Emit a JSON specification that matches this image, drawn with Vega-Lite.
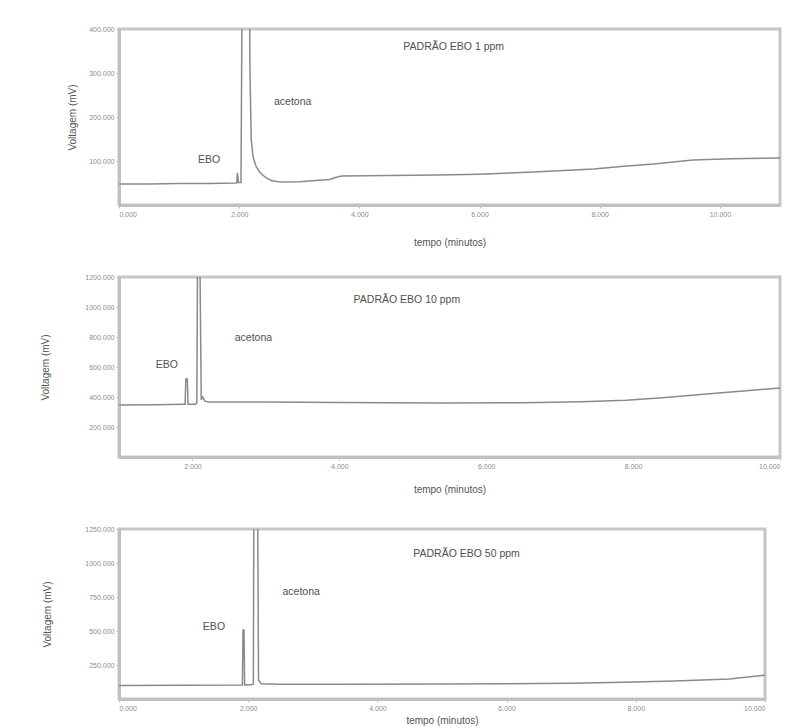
{
  "$schema": "https://vega.github.io/schema/vega-lite/v6.json",
  "background": "white",
  "padding": {"left": 38, "top": 23, "right": 10, "bottom": 4},
  "bounds": "flush",
  "spacing": 72,
  "config": {
    "font": "Liberation Sans",
    "view": {"stroke": "#c6c6c6", "strokeWidth": 3},
    "axis": {
      "grid": false,
      "domainColor": "#c0c0c0",
      "domainWidth": 3,
      "tickColor": "#bdbdbd",
      "tickSize": 3,
      "labelFontSize": 7,
      "labelColor": "#8c8c8c",
      "labelPadding": 2,
      "labelOverlap": false,
      "titleFontSize": 10,
      "titleFontWeight": "normal",
      "titleColor": "#555555"
    },
    "line": {"color": "#8a8a8a", "strokeWidth": 1.5, "clip": true},
    "text": {"fontSize": 10.5, "color": "#505050"}
  },
  "datasets": {
    "ebo1": [
      {"t": 0, "v": 48}, {"t": 0.5, "v": 48}, {"t": 1.0, "v": 49}, {"t": 1.5, "v": 49},
      {"t": 1.95, "v": 50}, {"t": 1.96, "v": 50}, {"t": 1.97, "v": 73}, {"t": 1.99, "v": 51},
      {"t": 2.03, "v": 51}, {"t": 2.05, "v": 520}, {"t": 2.07, "v": 700}, {"t": 2.16, "v": 700},
      {"t": 2.18, "v": 300}, {"t": 2.2, "v": 150}, {"t": 2.23, "v": 110}, {"t": 2.28, "v": 88},
      {"t": 2.34, "v": 75}, {"t": 2.4, "v": 67}, {"t": 2.47, "v": 60}, {"t": 2.55, "v": 55},
      {"t": 2.7, "v": 52}, {"t": 3.0, "v": 53}, {"t": 3.5, "v": 58}, {"t": 3.62, "v": 63},
      {"t": 3.7, "v": 66}, {"t": 4.5, "v": 67}, {"t": 5.3, "v": 68}, {"t": 6.0, "v": 70},
      {"t": 6.9, "v": 75}, {"t": 7.9, "v": 82}, {"t": 8.4, "v": 88}, {"t": 8.9, "v": 93},
      {"t": 9.55, "v": 102}, {"t": 10.2, "v": 105}, {"t": 11.0, "v": 107}
    ],
    "ebo1_labels": [
      {"t": 5.57, "v": 359, "label": "PADRÃO EBO 1 ppm"},
      {"t": 2.89, "v": 234, "label": "acetona"},
      {"t": 1.5, "v": 102, "label": "EBO"}
    ],
    "ebo10": [
      {"t": 1.0, "v": 347}, {"t": 1.5, "v": 349}, {"t": 1.88, "v": 352}, {"t": 1.9, "v": 352},
      {"t": 1.91, "v": 520}, {"t": 1.93, "v": 520}, {"t": 1.94, "v": 352}, {"t": 2.04, "v": 352},
      {"t": 2.06, "v": 360}, {"t": 2.07, "v": 1400}, {"t": 2.1, "v": 1400}, {"t": 2.12, "v": 380},
      {"t": 2.14, "v": 400}, {"t": 2.17, "v": 372}, {"t": 2.22, "v": 367}, {"t": 3.0, "v": 366},
      {"t": 4.0, "v": 363}, {"t": 5.4, "v": 360}, {"t": 6.5, "v": 362}, {"t": 7.3, "v": 368},
      {"t": 7.9, "v": 378}, {"t": 8.4, "v": 395}, {"t": 9.0, "v": 420}, {"t": 9.5, "v": 440},
      {"t": 10.0, "v": 460}
    ],
    "ebo10_labels": [
      {"t": 4.92, "v": 1047, "label": "PADRÃO EBO 10 ppm"},
      {"t": 2.83, "v": 793, "label": "acetona"},
      {"t": 1.65, "v": 613, "label": "EBO"}
    ],
    "ebo50": [
      {"t": 0, "v": 100}, {"t": 1.0, "v": 101}, {"t": 1.9, "v": 103}, {"t": 1.91, "v": 103},
      {"t": 1.92, "v": 507}, {"t": 1.935, "v": 507}, {"t": 1.945, "v": 103}, {"t": 2.05, "v": 104},
      {"t": 2.08, "v": 110}, {"t": 2.09, "v": 2000}, {"t": 2.14, "v": 2000}, {"t": 2.16, "v": 140},
      {"t": 2.2, "v": 112}, {"t": 2.5, "v": 108}, {"t": 3.5, "v": 108}, {"t": 5.0, "v": 110},
      {"t": 6.0, "v": 112}, {"t": 7.0, "v": 116}, {"t": 7.8, "v": 123}, {"t": 8.6, "v": 132},
      {"t": 9.45, "v": 147}, {"t": 10.0, "v": 176}
    ],
    "ebo50_labels": [
      {"t": 5.38, "v": 1066, "label": "PADRÃO EBO 50 ppm"},
      {"t": 2.82, "v": 787, "label": "acetona"},
      {"t": 1.47, "v": 529, "label": "EBO"}
    ]
  },
  "vconcat": [
    {
      "width": 661,
      "height": 176,
      "encoding": {
        "x": {"field": "t", "type": "quantitative",
          "scale": {"domain": [0, 11], "nice": false, "zero": false},
          "axis": {"title": "tempo (minutos)", "values": [0, 2, 4, 6, 8, 10], "format": ".3f",
            "labelOverlap": false, "minExtent": 12, "maxExtent": 12, "titlePadding": 20}},
        "y": {"field": "v", "type": "quantitative",
          "scale": {"domain": [0, 400], "nice": false},
          "axis": {"title": "Voltagem (mV)", "values": [100, 200, 300, 400], "format": ".3f",
            "labelOverlap": false, "minExtent": 30, "maxExtent": 30, "titlePadding": 12}}
      },
      "layer": [
        {"data": {"name": "ebo1"}, "mark": {"type": "line", "clip": true}},
        {"data": {"name": "ebo1_labels"}, "mark": {"type": "text"}, "encoding": {"text": {"field": "label"}}}
      ]
    },
    {
      "width": 661,
      "height": 180,
      "encoding": {
        "x": {"field": "t", "type": "quantitative",
          "scale": {"domain": [1, 10], "nice": false, "zero": false},
          "axis": {"title": "tempo (minutos)", "values": [2, 4, 6, 8, 10], "format": ".3f",
            "labelOverlap": false, "minExtent": 12, "maxExtent": 12, "titlePadding": 15}},
        "y": {"field": "v", "type": "quantitative",
          "scale": {"domain": [0, 1200], "nice": false},
          "axis": {"title": "Voltagem (mV)", "values": [200, 400, 600, 800, 1000, 1200], "format": ".3f",
            "labelOverlap": false, "minExtent": 30, "maxExtent": 30, "titlePadding": 39}}
      },
      "layer": [
        {"data": {"name": "ebo10"}, "mark": {"type": "line", "clip": true}},
        {"data": {"name": "ebo10_labels"}, "mark": {"type": "text"}, "encoding": {"text": {"field": "label"}}}
      ]
    },
    {
      "width": 646,
      "height": 170,
      "encoding": {
        "x": {"field": "t", "type": "quantitative",
          "scale": {"domain": [0, 10], "nice": false, "zero": false},
          "axis": {"title": "tempo (minutos)", "values": [0, 2, 4, 6, 8, 10], "format": ".3f",
            "labelOverlap": false, "minExtent": 12, "maxExtent": 12, "titlePadding": 4}},
        "y": {"field": "v", "type": "quantitative",
          "scale": {"domain": [0, 1250], "nice": false},
          "axis": {"title": "Voltagem (mV)", "values": [250, 500, 750, 1000, 1250], "format": ".3f",
            "labelOverlap": false, "minExtent": 30, "maxExtent": 30, "titlePadding": 37}}
      },
      "layer": [
        {"data": {"name": "ebo50"}, "mark": {"type": "line", "clip": true}},
        {"data": {"name": "ebo50_labels"}, "mark": {"type": "text"}, "encoding": {"text": {"field": "label"}}}
      ]
    }
  ]
}
